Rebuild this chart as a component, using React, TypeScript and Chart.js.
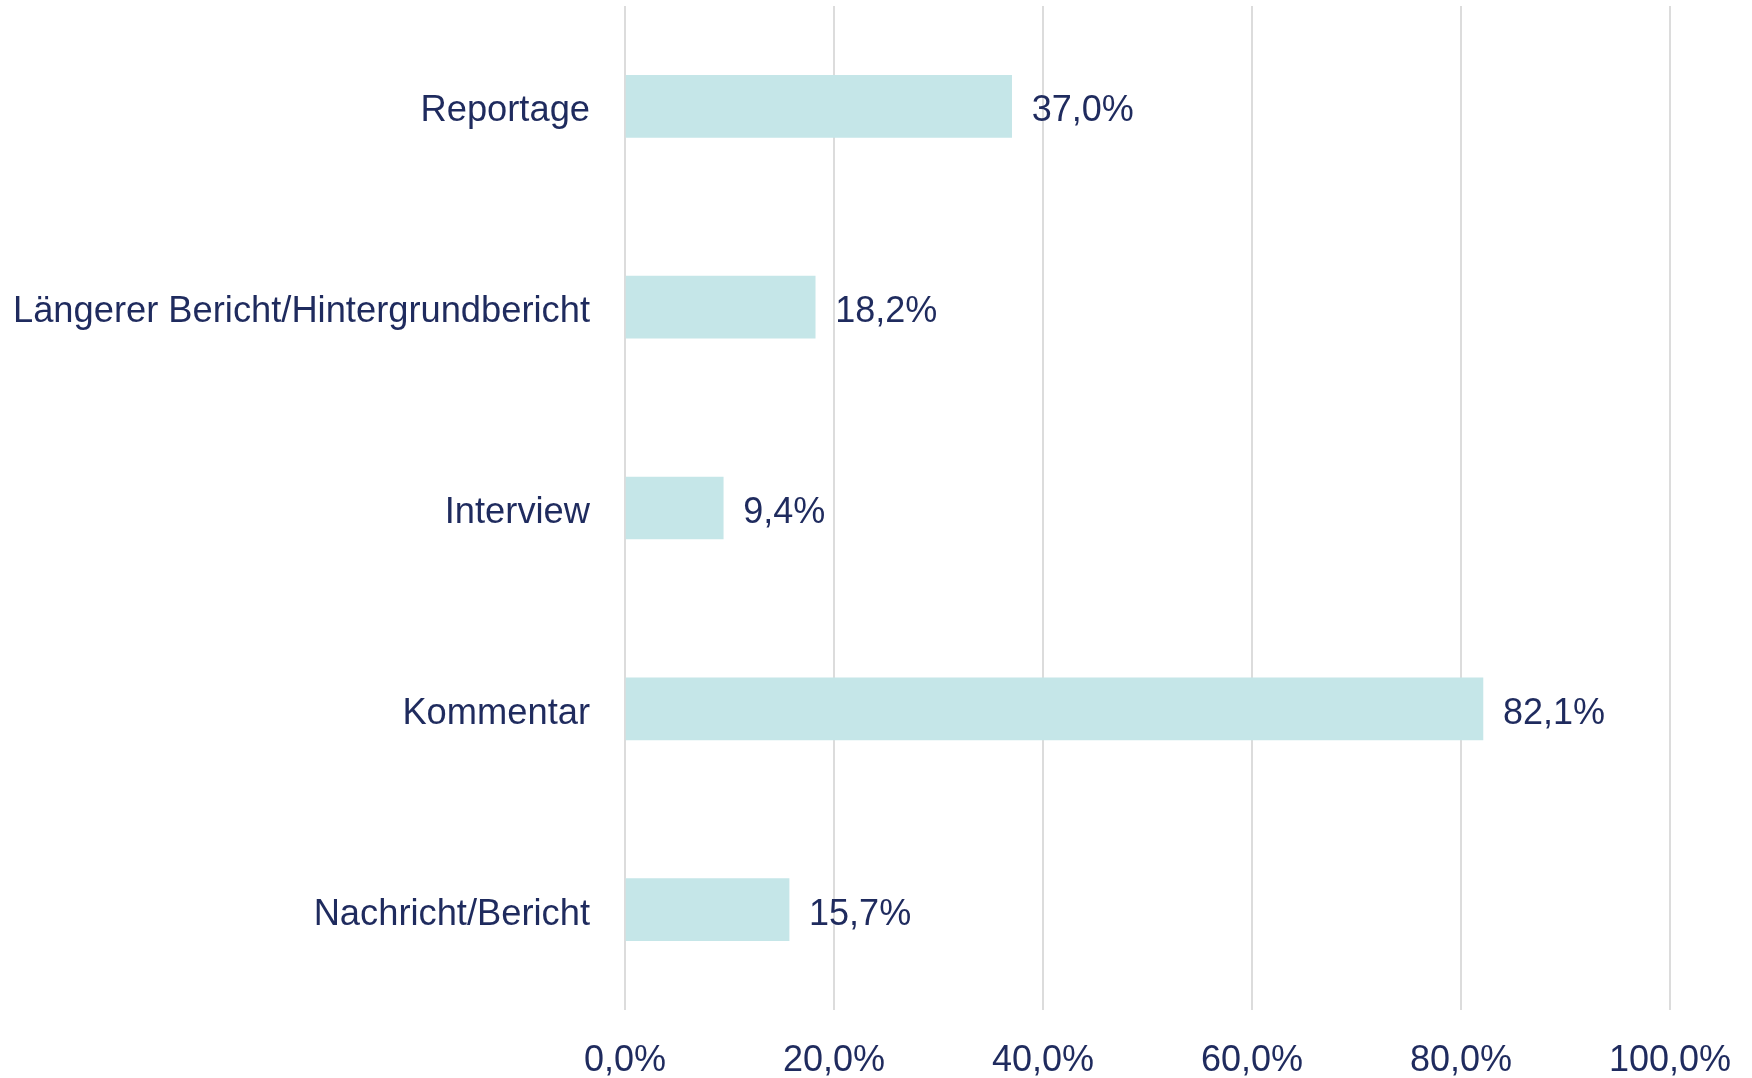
import React, { useEffect, useRef } from "react";
import { Chart, registerables } from "chart.js";

Chart.register(...registerables);

const categories = [
  "Reportage",
  "Längerer Bericht/Hintergrundbericht",
  "Interview",
  "Kommentar",
  "Nachricht/Bericht",
];
const values = [37.0, 18.2, 9.4, 82.1, 15.7];
const tickValues = [0, 20, 40, 60, 80, 100];

const NAVY = "#1f2b5e";
const BAR = "#c5e6e8";
const GRID = "#dcdcdc";
const FONT = "'Liberation Sans', Arial, Helvetica, sans-serif";

const fmt = (v: number) => v.toFixed(1).replace(".", ",") + "%";

const valueLabels = {
  id: "valueLabels",
  afterDatasetsDraw(chart: any) {
    const ctx = chart.ctx;
    const meta = chart.getDatasetMeta(0);
    ctx.save();
    ctx.font = `36px ${FONT}`;
    ctx.fillStyle = NAVY;
    ctx.textAlign = "left";
    ctx.textBaseline = "middle";
    meta.data.forEach((el: any, i: number) => {
      ctx.fillText(fmt(values[i]), el.x + 20, el.y + 5);
    });
    ctx.restore();
  },
};

export default function App() {
  const ref = useRef<HTMLCanvasElement | null>(null);
  useEffect(() => {
    if (!ref.current) return;
    const chart = new Chart(ref.current, {
      type: "bar",
      data: {
        labels: categories,
        datasets: [
          {
            data: values,
            backgroundColor: BAR,
            borderWidth: 0,
            barThickness: 62,
          },
        ],
      },
      options: {
        indexAxis: "y",
        animation: false,
        responsive: false,
        maintainAspectRatio: false,
        layout: { padding: { top: 6, right: 82, left: 0, bottom: 0 } },
        plugins: {
          legend: { display: false },
          tooltip: { enabled: false },
        },
        scales: {
          x: {
            min: 0,
            max: 100,
            afterBuildTicks: (axis: any) => {
              axis.ticks = tickValues.map((v) => ({ value: v }));
            },
            grid: {
              color: GRID,
              lineWidth: 2,
              drawTicks: false,
            },
            border: { display: false },
            ticks: {
              padding: 29,
              color: NAVY,
              font: { family: FONT, size: 36 },
              callback: (v: any) => fmt(Number(v)),
              maxRotation: 0,
            },
            afterFit: (axis: any) => {
              axis.height = 68;
              axis.paddingLeft = 0;
              axis.paddingRight = 0;
            },
          },
          y: {
            grid: { display: false, drawTicks: false },
            border: { display: false },
            ticks: {
              padding: 35,
              labelOffset: 5,
              color: NAVY,
              font: { family: FONT, size: 36.3 },
            },
            afterFit: (axis: any) => {
              axis.width = 625;
              axis.paddingTop = 0;
              axis.paddingBottom = 0;
            },
          },
        },
      },
      plugins: [valueLabels],
    });
    return () => chart.destroy();
  }, []);
  return (
    <div style={{ position: "fixed", left: 0, top: 0, width: 1752, height: 1078, background: "#fff" }}>
      <canvas ref={ref} width={1752} height={1078} style={{ width: 1752, height: 1078, display: "block" }} />
    </div>
  );
}
